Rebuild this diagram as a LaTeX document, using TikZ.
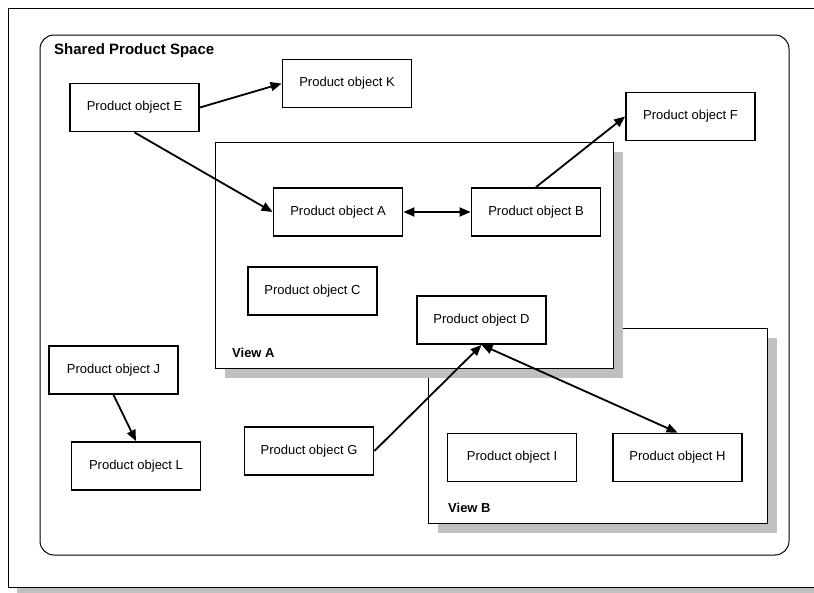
\documentclass[tikz,border=0pt]{standalone}
\usepackage{fontspec}
\setmainfont{Liberation Sans}
\usetikzlibrary{arrows.meta}
\definecolor{shadowgray}{HTML}{C0C0C0}
\tikzset{
  obj/.style={draw, line width=1.8pt, fill=white, minimum width=129pt, minimum height=48pt,
              inner sep=0pt, font=\fontsize{13}{15}\selectfont},
  link/.style={line width=1.8pt, -{Triangle[length=11pt,width=9pt]}},
  biglink/.style={line width=1.8pt, {Triangle[length=11pt,width=9pt]}-{Triangle[length=11pt,width=9pt]}},
  viewbox/.style={draw, line width=0.9pt, fill=white},
  dropshadow/.style={fill=shadowgray, draw=none},
  viewlabel/.style={anchor=base west, inner sep=0pt, font=\bfseries\fontsize{13}{15}\selectfont}
}
\begin{document}
\begin{tikzpicture}[x=1pt, y=-1pt]
\useasboundingbox (0,0) rectangle (814,592);
\clip (0,0) rectangle (814,592);

% page frame with drop shadow
\path[dropshadow] (17,17) rectangle (840,600);
\draw[line width=1pt, fill=white] (8,8) rectangle (830,587);

% shared space
\draw[line width=1pt, rounded corners=14pt] (40,35) rectangle (789,555);
\node[anchor=base west, inner sep=0pt, font=\bfseries\fontsize{15}{18}\selectfont] (title) at (54,54) {Shared Product Space};

% view B (behind)
\path[dropshadow] (438,338) rectangle (777,533);
\draw[viewbox] (428,328) rectangle (767,523);
\node[viewlabel] (vb) at (448,512) {View B};

% view A (front)
\path[dropshadow] (225,152) rectangle (623,378);
\draw[viewbox] (215,142) rectangle (613,368);
\node[viewlabel] (va) at (232,357) {View A};

% product objects
\node[obj] (E) at (134.5,107.5) {Product object E};
\node[obj] (K) at (347,83.5) {Product object K};
\node[obj] (A) at (338,212) {Product object A};
\node[obj] (B) at (536,212) {Product object B};
\node[obj] (F) at (690.5,116.5) {Product object F};
\node[obj] (C) at (312.5,291) {Product object C};
\node[obj] (D) at (481.5,320) {Product object D};
\node[obj] (J) at (113.5,370) {Product object J};
\node[obj] (L) at (136,466) {Product object L};
\node[obj] (G) at (309,451) {Product object G};
\node[obj] (I) at (512,457.5) {Product object I};
\node[obj] (H) at (677.5,457.5) {Product object H};

% relations
\draw[link] (E.east) -- (K.west);
\draw[link] (E.south) -- (A.west);
\draw[biglink] (A.east) -- (B.west);
\draw[link] (B.north) -- (F.west);
\draw[link] (J.south) -- (L.north);
\draw[link] (G.east) -- (D.south);
\draw[biglink] (D.south) -- (H.north);
\end{tikzpicture}
\end{document}
